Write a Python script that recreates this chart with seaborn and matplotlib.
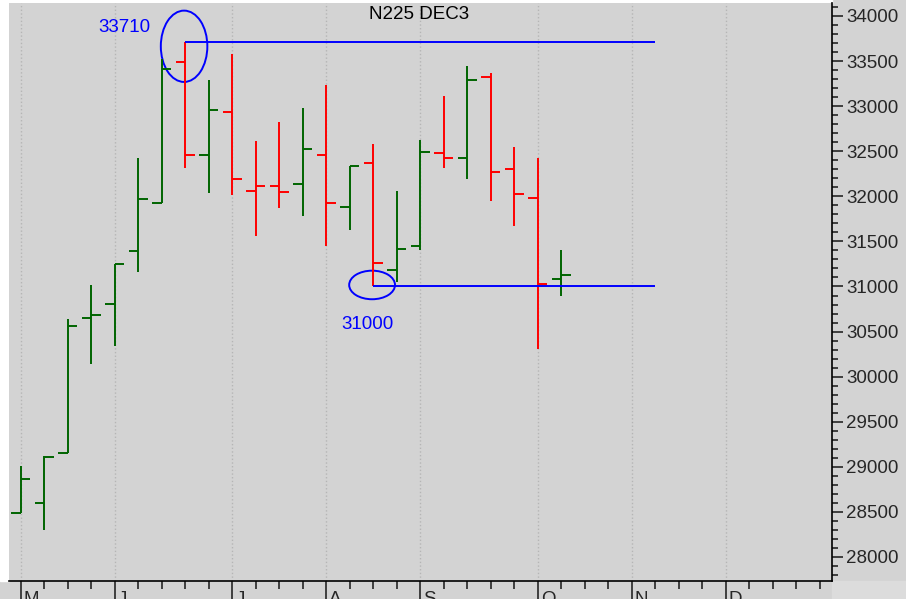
import matplotlib
matplotlib.use("Agg")
import matplotlib.pyplot as plt
import matplotlib.transforms as mtransforms
from matplotlib.patches import Ellipse, Rectangle
from matplotlib.ticker import MultipleLocator, FixedLocator
import seaborn as sns
import pandas as pd

# weekly OHLC bars, N225 Dec-23 futures, first bar = first week of May
opens = [28490, 28600, 29150, 30650, 30805, 31390, 31925, 33490, 32460, 32940, 32060, 32110,
         32140, 32460, 31885, 32370, 31185, 31445, 32475, 32420, 33320, 32300, 31985, 31080]
highs = [29010, 29120, 30640, 31020, 31250, 32425, 33520, 33710, 33290, 33580, 32610, 32820,
         32980, 33230, 32340, 32580, 32060, 32630, 33110, 33450, 33365, 32550, 32425, 31400]
lows = [28490, 28300, 29150, 30145, 30335, 31160, 31925, 32315, 32040, 32020, 31555, 31865,
        31780, 31450, 31630, 31000, 31055, 31410, 32310, 32195, 31950, 31675, 30310, 30890]
closes = [28870, 29110, 30565, 30685, 31250, 31975, 33410, 32460, 32960, 32195, 32110, 32045,
          32525, 31925, 32335, 31265, 31420, 32490, 32420, 33285, 32265, 32030, 31030, 31130]

months = ["M", "J", "J", "A", "S", "O", "N", "D"]
month_weeks = [0, 4, 9, 13, 17, 22, 26, 30]

level_high = 33710
level_low = 31000

df = pd.DataFrame({"week": range(len(opens)), "open": opens, "high": highs,
                   "low": lows, "close": closes})
df["up"] = df["close"].diff().fillna(1) > 0

GREEN = "#006400"
RED = "#ff0000"
BLUE = "#0000ff"
BG = "#d3d3d3"

sns.set_style("ticks")
plt.rcParams["font.family"] = ["Liberation Sans", "DejaVu Sans"]

fig = plt.figure(figsize=(9.06, 5.99), dpi=100, facecolor=BG)
ax = fig.add_axes([9 / 906, 18.3 / 599, 823 / 906, 577.7 / 599])
ax.set_facecolor(BG)

# white margins at the left and top, lighter corner at bottom right
fig.add_artist(Rectangle((0, 18.3 / 599), 9 / 906, 1, transform=fig.transFigure,
                         color="white", zorder=-5))
fig.add_artist(Rectangle((0, 1 - 3 / 599), 832 / 906, 3 / 599, transform=fig.transFigure,
                         color="white", zorder=-5))
fig.add_artist(Rectangle((832 / 906, 0), 74 / 906, 18.3 / 599, transform=fig.transFigure,
                         color="#dcdcdc", zorder=-5))

# bars
for _, r in df.iterrows():
    c = GREEN if r["up"] else RED
    w = r["week"]
    ax.vlines(w, r["low"], r["high"], color=c, lw=1.4)
    ax.hlines(r["open"], w - 0.4, w, color=c, lw=1.4)
    ax.hlines(r["close"], w, w + 0.4, color=c, lw=1.4)

# support / resistance
w_hi = int(df["high"].idxmax())
w_lo = int(df.index[df["low"] == level_low][0])
ax.hlines(level_high, w_hi, 27, color=BLUE, lw=1.4)
ax.hlines(level_low, w_lo, 27, color=BLUE, lw=1.4)
ax.add_patch(Ellipse((6.95, 33664), 1.98, 791, fill=False, ec=BLUE, lw=1.4))
ax.add_patch(Ellipse((14.95, 31017), 1.95, 317, fill=False, ec=BLUE, lw=1.4))
ax.text(4.4, 33870, str(level_high), color=BLUE, fontsize=13.5, ha="center", va="center")
ax.text(14.74, 30573, str(level_low), color=BLUE, fontsize=13.5, ha="center", va="center")
ax.text(16.93, 34022, "N225 DEC3", color="black", fontsize=13.5, ha="center", va="center")

# axes
ax.set_xlim(-0.5, 34.52)
ax.set_ylim(27737, 34144)
for s in ["left", "top"]:
    ax.spines[s].set_visible(False)
for s in ["right", "bottom"]:
    ax.spines[s].set_linewidth(1.2)
    ax.spines[s].set_color("black")

ax.xaxis.set_major_locator(FixedLocator(month_weeks))
ax.xaxis.set_minor_locator(MultipleLocator(1))
ax.set_xticklabels(months, ha="left", fontsize=13.5)
ax.tick_params(axis="x", which="major", direction="out", length=15, width=1.2, pad=-7.5)
ax.tick_params(axis="x", which="minor", direction="out", length=5.5, width=1.2)
offset = mtransforms.ScaledTranslation(3 / 100, 0, fig.dpi_scale_trans)
for lab in ax.get_xticklabels():
    lab.set_transform(lab.get_transform() + offset)

ax.yaxis.tick_right()
ax.yaxis.set_major_locator(MultipleLocator(500))
ax.yaxis.set_minor_locator(MultipleLocator(100))
ax.tick_params(axis="y", which="major", direction="out", length=8, width=1.2, pad=2,
               labelsize=13.5)
ax.tick_params(axis="y", which="minor", direction="out", length=4, width=1.2)

ax.grid(False)
ax.xaxis.grid(True, which="major", linestyle=":", color="#b5b5b5", lw=1)
ax.set_xlabel("")
ax.set_ylabel("")

fig.savefig("out.png", dpi=100, facecolor=fig.get_facecolor())
